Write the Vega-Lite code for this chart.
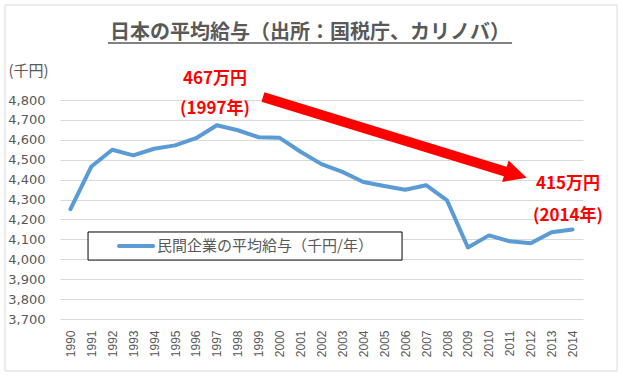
{
  "$schema": "https://vega.github.io/schema/vega-lite/v6.json",
  "width": 523,
  "height": 219,
  "autosize": {"type": "none"},
  "padding": {"left": 60, "top": 100, "right": 40, "bottom": 60},
  "background": "white",
  "config": {"view": {"stroke": null}},
  "datasets": {
    "salary": [
      {"year": 1990, "value": 4252, "series": "民間企業の平均給与（千円/年）"},
      {"year": 1991, "value": 4466, "series": "民間企業の平均給与（千円/年）"},
      {"year": 1992, "value": 4550, "series": "民間企業の平均給与（千円/年）"},
      {"year": 1993, "value": 4522, "series": "民間企業の平均給与（千円/年）"},
      {"year": 1994, "value": 4555, "series": "民間企業の平均給与（千円/年）"},
      {"year": 1995, "value": 4572, "series": "民間企業の平均給与（千円/年）"},
      {"year": 1996, "value": 4608, "series": "民間企業の平均給与（千円/年）"},
      {"year": 1997, "value": 4673, "series": "民間企業の平均給与（千円/年）"},
      {"year": 1998, "value": 4648, "series": "民間企業の平均給与（千円/年）"},
      {"year": 1999, "value": 4613, "series": "民間企業の平均給与（千円/年）"},
      {"year": 2000, "value": 4610, "series": "民間企業の平均給与（千円/年）"},
      {"year": 2001, "value": 4540, "series": "民間企業の平均給与（千円/年）"},
      {"year": 2002, "value": 4478, "series": "民間企業の平均給与（千円/年）"},
      {"year": 2003, "value": 4439, "series": "民間企業の平均給与（千円/年）"},
      {"year": 2004, "value": 4388, "series": "民間企業の平均給与（千円/年）"},
      {"year": 2005, "value": 4368, "series": "民間企業の平均給与（千円/年）"},
      {"year": 2006, "value": 4349, "series": "民間企業の平均給与（千円/年）"},
      {"year": 2007, "value": 4372, "series": "民間企業の平均給与（千円/年）"},
      {"year": 2008, "value": 4296, "series": "民間企業の平均給与（千円/年）"},
      {"year": 2009, "value": 4059, "series": "民間企業の平均給与（千円/年）"},
      {"year": 2010, "value": 4120, "series": "民間企業の平均給与（千円/年）"},
      {"year": 2011, "value": 4090, "series": "民間企業の平均給与（千円/年）"},
      {"year": 2012, "value": 4080, "series": "民間企業の平均給与（千円/年）"},
      {"year": 2013, "value": 4136, "series": "民間企業の平均給与（千円/年）"},
      {"year": 2014, "value": 4150, "series": "民間企業の平均給与（千円/年）"}
    ],
    "frame": [
      {"year": 1986.87, "year2": 2016.13, "value": 5277, "value2": 3439}
    ],
    "legendBox": [
      {"year": 1990.84, "year2": 2005.85, "value": 4137, "value2": 3996}
    ],
    "legendSymbol": [
      {"year": 1992.32, "year2": 1993.95, "value": 4067}
    ],
    "legendLabel": [
      {"year": 1994.14, "value": 4067, "label": "民間企業の平均給与（千円/年）"}
    ],
    "arrowShaft": [
      {"year": 1999.2, "year2": 2010.82, "value": 4815, "value2": 4440}
    ],
    "arrowHead": [
      {"year": 2011.3, "value": 4426}
    ],
    "notes": [
      {"year": 1996.91, "value": 4905, "label": "467万円"},
      {"year": 1996.91, "value": 4755, "label": "(1997年)"},
      {"year": 2013.78, "value": 4378, "label": "415万円"},
      {"year": 2013.78, "value": 4217, "label": "(2014年)"}
    ],
    "title": [
      {"year": 2001.45, "value": 5137, "label": "日本の平均給与（出所：国税庁、カリノバ）"}
    ],
    "underline": [
      {"year": 1991.79, "year2": 2011.11, "value": 5086}
    ]
  },
  "encoding": {
    "x": {
      "field": "year",
      "type": "quantitative",
      "scale": {"domain": [1989.5, 2014.5], "nice": false, "zero": false},
      "axis": {
        "title": null,
        "values": [1990, 1991, 1992, 1993, 1994, 1995, 1996, 1997, 1998, 1999, 2000, 2001, 2002, 2003, 2004, 2005, 2006, 2007, 2008, 2009, 2010, 2011, 2012, 2013, 2014],
        "format": "d",
        "grid": false,
        "domain": false,
        "ticks": false,
        "labelAngle": -90,
        "labelAlign": "right",
        "labelBaseline": "middle",
        "labelPadding": 11,
        "labelFont": "Liberation Sans",
        "labelFontSize": 12,
        "labelColor": "#595959",
        "labelOverlap": false
      }
    },
    "y": {
      "field": "value",
      "type": "quantitative",
      "scale": {"domain": [3700, 4800], "nice": false, "zero": false},
      "axis": {
        "title": "(千円)",
        "titleAngle": 0,
        "titleAlign": "left",
        "titleBaseline": "middle",
        "titleX": -52,
        "titleY": -30,
        "titleFont": "Noto Sans CJK JP",
        "titleFontSize": 15,
        "titleFontWeight": "normal",
        "titleColor": "#595959",
        "values": [3700, 3800, 3900, 4000, 4100, 4200, 4300, 4400, 4500, 4600, 4700, 4800],
        "format": ",d",
        "grid": true,
        "gridColor": "#d9d9d9",
        "gridWidth": 1,
        "domain": false,
        "ticks": false,
        "labelPadding": 15,
        "labelFont": "DejaVu Sans",
        "labelFontSize": 13,
        "labelColor": "#595959"
      }
    }
  },
  "layer": [
    {
      "data": {"name": "frame"},
      "mark": {"type": "rect", "fill": null, "filled": false, "stroke": "#d9d9d9", "strokeWidth": 1, "clip": false},
      "encoding": {"x2": {"field": "year2"}, "y2": {"field": "value2"}}
    },
    {
      "data": {"name": "salary"},
      "mark": {"type": "line", "color": "#5B9BD5", "strokeWidth": 4, "strokeJoin": "round", "strokeCap": "round", "clip": false},
      "encoding": {}
    },
    {
      "data": {"name": "legendBox"},
      "mark": {"type": "rect", "fill": "white", "stroke": "black", "strokeWidth": 1, "clip": false},
      "encoding": {"x2": {"field": "year2"}, "y2": {"field": "value2"}}
    },
    {
      "data": {"name": "legendSymbol"},
      "mark": {"type": "rule", "color": "#5B9BD5", "strokeWidth": 4, "strokeCap": "round", "clip": false},
      "encoding": {"x2": {"field": "year2"}}
    },
    {
      "data": {"name": "legendLabel"},
      "mark": {"type": "text", "align": "left", "baseline": "middle", "font": "Noto Sans CJK JP", "fontSize": 15, "color": "#595959", "clip": false},
      "encoding": {"text": {"field": "label"}}
    },
    {
      "data": {"name": "arrowShaft"},
      "mark": {"type": "rule", "color": "#FF0000", "strokeWidth": 10, "strokeCap": "butt", "clip": false},
      "encoding": {"x2": {"field": "year2"}, "y2": {"field": "value2"}}
    },
    {
      "data": {"name": "arrowHead"},
      "mark": {"type": "point", "shape": "M1,0L-1,-1L-1,1Z", "size": 500, "angle": 17, "filled": true, "color": "#FF0000", "opacity": 1, "strokeWidth": 0, "clip": false},
      "encoding": {}
    },
    {
      "data": {"name": "notes"},
      "mark": {"type": "text", "align": "center", "baseline": "middle", "font": "Noto Sans CJK JP", "fontSize": 17, "fontWeight": "bold", "color": "#FF0000", "clip": false},
      "encoding": {"text": {"field": "label"}}
    },
    {
      "data": {"name": "title"},
      "mark": {"type": "text", "align": "center", "baseline": "middle", "font": "Noto Sans CJK JP", "fontSize": 20, "fontWeight": "bold", "color": "#595959", "clip": false},
      "encoding": {"text": {"field": "label"}}
    },
    {
      "data": {"name": "underline"},
      "mark": {"type": "rule", "color": "#595959", "strokeWidth": 1.5, "clip": false},
      "encoding": {"x2": {"field": "year2"}}
    }
  ]
}
